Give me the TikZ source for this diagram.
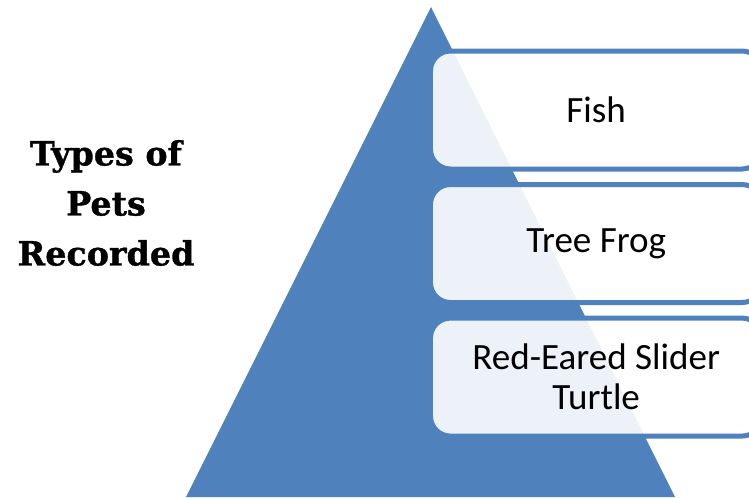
\documentclass[tikz,border=0pt]{standalone}
\usepackage{fontspec}
\usetikzlibrary{positioning}
\newfontfamily\listfont{Carlito}
\newfontfamily\headfont[FakeBold=1]{DejaVu Serif}
\definecolor{pyramidblue}{HTML}{4F81BD}
\definecolor{listink}{HTML}{000000}

\tikzset{
  petbox/.style={draw=pyramidblue,line width=3.75pt,rounded corners=15pt,
    fill=white,fill opacity=.9,text opacity=1,text=listink,
    minimum width=248.6pt,minimum height=88.5pt,inner sep=0pt,
    align=center,font=\listfont\fontsize{27.8}{30}\selectfont},
  pettitle/.style={align=center,text=listink,
    font=\headfont\bfseries\fontsize{25}{37.5}\selectfont}
}

\begin{document}
\begin{tikzpicture}[x=.75pt,y=-.75pt]
    \useasboundingbox (0,0) rectangle (749,497);
    \clip (0,0) rectangle (749,497);

    % The pyramid sits behind the list.
    \fill[pyramidblue] (431,7) -- (675,497) -- (186,497) -- cycle;

    % Heading to the left of the pyramid.
    \node[pettitle] (title) at (106,203) {Types of\\Pets\\Recorded};

    % Three list boxes, running off the right edge.
    \node[petbox] (fish) at (596.2,110) {Fish};
    \node[petbox,below=7.9pt of fish] (frog) {Tree Frog};
    \node[petbox,below=7.9pt of frog] (turtle) {Red-Eared Slider\\Turtle};
\end{tikzpicture}
\end{document}
